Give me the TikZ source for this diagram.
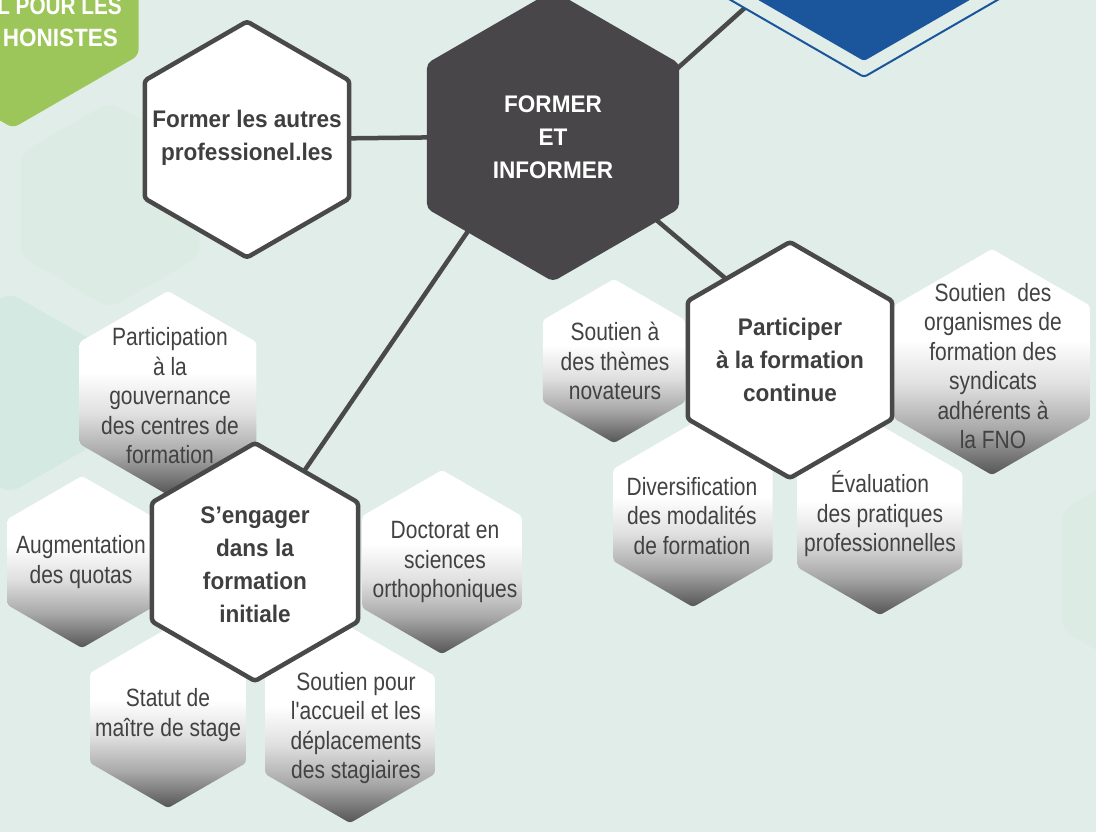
\documentclass[tikz,border=0pt]{standalone}
\usepackage{fontspec}
\setmainfont{Liberation Sans}
\newfontfamily\condf{Liberation Sans}[FakeStretch=0.84]
\newfontfamily\boldf{Liberation Sans}[FakeStretch=0.94]
\newfontfamily\greenf{Liberation Sans}[FakeStretch=0.9]
\newfontfamily\greenfb{Liberation Sans}[FakeStretch=0.83]
\usetikzlibrary{shapes.geometric,calc}
\definecolor{bgc}{HTML}{E0EDE8}
\definecolor{mintc}{HTML}{D3E9E1}
\definecolor{faintc}{HTML}{DDEBE5}
\definecolor{darkc}{HTML}{484648}
\definecolor{linec}{HTML}{4A4949}
\definecolor{txtc}{HTML}{424242}
\definecolor{boldc}{HTML}{3F3F3F}
\definecolor{bluec}{HTML}{1B569C}
\definecolor{greenc}{HTML}{9DC65A}
\definecolor{gA}{HTML}{555555}
\definecolor{gB}{HTML}{A8A8A8}
\definecolor{gC}{HTML}{E0E0E0}
\pgfdeclareverticalshading{hexgrad}{100bp}{color(0bp)=(gA); color(25bp)=(gA); color(35bp)=(gB); color(45bp)=(gC); color(55bp)=(white); color(100bp)=(white)}
\pgfdeclarelayer{back}
\pgfsetlayers{back,main}
\tikzset{
  hexnode/.style={regular polygon, regular polygon sides=6, shape border rotate=30, minimum size=#1, inner sep=0pt, outer sep=0pt, rounded corners=3pt},
  grayhex/.style={hexnode=#1, shade, shading=hexgrad, draw=none},
  whitehex/.style={hexnode=#1, fill=white, draw=linec, line width=4.5pt},
  conn/.style={draw=linec, line width=4.5pt},
  graytxt/.style={text=txtc, font=\condf\fontsize{25}{29.5}\selectfont, align=center, inner sep=0pt},
  boldtxt/.style={text=boldc, font=\boldf\bfseries\fontsize{24}{33}\selectfont, align=center, inner sep=0pt},
  greentxt/.style={text=white, font=\greenf\bfseries\fontsize{25}{30}\selectfont, inner sep=0pt},
}
\begin{document}
\begin{tikzpicture}[x=1pt,y=-1pt]
\useasboundingbox (0,0) rectangle (1096,832);
\begin{pgfonlayer}{back}
  \fill[bgc] (0,0) rectangle (1096,832);
  \node[hexnode=206pt, fill=faintc, rounded corners=10pt] (bgA) at (110,205) {};
  \node[hexnode=200pt, fill=mintc, rounded corners=10pt] (bgB) at (10,393) {};
  \node[hexnode=240pt, fill=faintc, rounded corners=10pt] (bgC) at (1166,570) {};
\end{pgfonlayer}

% top hexes
\node[hexnode=352pt, draw=bluec, line width=2pt, fill=bgc] (blueout) at (864,-99) {};
\node[hexnode=320pt, fill=bluec] (blue) at (864,-99) {};
\node[hexnode=290pt, fill=greenc, rounded corners=6pt] (green) at (13,-17) {};
\node[greentxt, font=\greenfb\bfseries\fontsize{25}{30}\selectfont, anchor=base east] (g1) at (122,15) {L POUR LES};
\node[greentxt, anchor=base east] (g2) at (118,47) {HONISTES};

% central
\node[hexnode=291pt, fill=darkc, rounded corners=5pt] (former) at (553,136) {};
\node[boldtxt, text=white] (formertxt) at (553,137) {FORMER\\ET\\INFORMER};

% gray hexes
\node[grayhex=204pt] (particip2) at (168,393) {};
\node[graytxt] (particip2t) at (170,396) {Participation\\à la\\gouvernance\\des centres de\\formation};
\node[grayhex=172pt] (augment) at (82,562) {};
\node[graytxt] (augmentt) at (81,562) {Augmentation\\des quotas};
\node[grayhex=180pt] (statut) at (168,718) {};
\node[graytxt] (statutt) at (168,715) {Statut de\\maître de stage};
\node[grayhex=196pt] (accueil) at (350,725) {};
\node[graytxt] (accueilt) at (356,728) {Soutien pour\\l'accueil et les\\déplacements\\des stagiaires};
\node[grayhex=184pt] (doctorat) at (442,562) {};
\node[graytxt] (doctoratt) at (445,562) {Doctorat en\\sciences\\orthophoniques};
\node[grayhex=164pt] (themes) at (614,361) {};
\node[graytxt] (themest) at (615,361) {Soutien à\\des thèmes\\novateurs};
\node[grayhex=184pt] (divers) at (693,515) {};
\node[graytxt] (diverst) at (692,516) {Diversification\\des modalités\\de formation};
\node[grayhex=190pt] (eval) at (880,520) {};
\node[graytxt] (evalt) at (880,514) {Évaluation\\des pratiques\\professionnelles};
\node[grayhex=226pt] (organ) at (992,362) {};
\node[graytxt] (organt) at (993,366) {Soutien\ \ des\\organismes de\\formation des\\syndicats\\adhérents à\\la FNO};

% white hexes
\node[whitehex=236pt] (autres) at (247,139.5) {};
\node[boldtxt] (autrest) at (247,138) {Former les autres\\professionel.les};
\node[whitehex=238pt] (engager) at (255,562) {};
\node[boldtxt] (engagert) at (255,565) {S’engager\\dans la\\formation\\initiale};
\node[whitehex=236pt] (particip) at (790,360) {};
\node[boldtxt] (participt) at (790,360) {Participer\\à la formation\\continue};

% connectors
\begin{pgfonlayer}{back}
  \draw[conn] (former) -- (autres);
  \draw[conn] ($(former.center)+(-20,0)$) -- ($(engager.center)+(-13,0)$);
  \draw[conn] ($(former.center)+(4,0)$) -- ($(particip.center)+(32,0)$);
  \draw[conn] ($(former.center)+(49,0)$) -- (blue.center);
\end{pgfonlayer}
\end{tikzpicture}
\end{document}
